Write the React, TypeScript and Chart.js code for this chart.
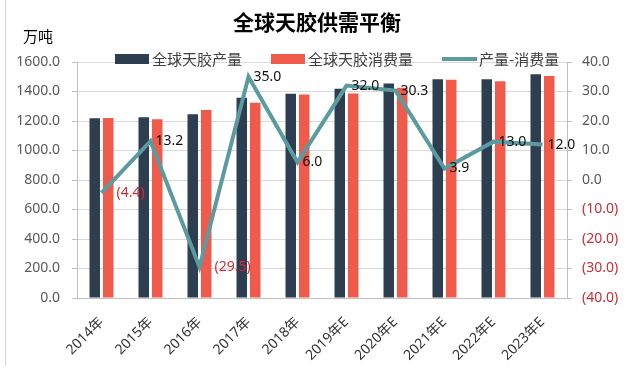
import React, { useEffect, useRef } from "react";
import { Chart, registerables } from "chart.js";

Chart.register(...registerables);

const categories = ["2014年", "2015年", "2016年", "2017年", "2018年", "2019年E", "2020年E", "2021年E", "2022年E", "2023年E"];
const production = [1218, 1225, 1245, 1358, 1385, 1419, 1455, 1483, 1483, 1517];
const consumption = [1220, 1212, 1275, 1323, 1379, 1387, 1425, 1479, 1470, 1505];
const balance = [-4.4, 13.2, -29.5, 35.0, 6.0, 32.0, 30.3, 3.9, 13.0, 12.0];
const leftTicks = [0, 200, 400, 600, 800, 1000, 1200, 1400, 1600];
const rightTicks = [-40, -30, -20, -10, 0, 10, 20, 30, 40];

const title = "全球天胶供需平衡";
const unitLabel = "万吨";
const seriesNames = ["全球天胶产量", "全球天胶消费量", "产量-消费量"];

const DARK = "#2C3E50";
const RED = "#EF5A4A";
const TEAL = "#5B9BA0";
const NEG = "#D42A35";
const FONT = "'Noto Sans', 'Noto Sans CJK SC', sans-serif";
const CJK = "'Noto Sans CJK SC', sans-serif";

const fmtRight = (v: number) => (v < 0 ? `(${(-v).toFixed(1)})` : v.toFixed(1));

const overlay = {
  id: "overlay",
  afterDatasetsDraw(chart: any) {
    const ctx = chart.ctx;
    const meta = chart.getDatasetMeta(0);
    ctx.save();
    ctx.font = `14px ${FONT}`;
    ctx.textBaseline = "middle";
    ctx.textAlign = "left";
    meta.data.forEach((pt: any, i: number) => {
      const v = balance[i];
      ctx.fillStyle = v < 0 ? NEG : "#111111";
      ctx.fillText(fmtRight(v), pt.x + (v < 0 ? 15 : 5), pt.y);
    });
    ctx.restore();
  },
  afterDraw(chart: any) {
    const ctx = chart.ctx;
    ctx.save();
    ctx.strokeStyle = "#D6D6D6";
    ctx.lineWidth = 1;
    ctx.beginPath();
    ctx.moveTo(5.5, 0);
    ctx.lineTo(5.5, 366);
    ctx.stroke();
    ctx.fillStyle = "#000";
    ctx.font = `bold 21px ${CJK}`;
    ctx.textAlign = "center";
    ctx.textBaseline = "middle";
    ctx.fillText(title, 317, 22);
    ctx.font = `15px ${CJK}`;
    ctx.textAlign = "left";
    ctx.fillText(unitLabel, 23, 36);
    ctx.font = `15px ${CJK}`;
    let x = 115;
    const y = 59;
    const colors = [DARK, RED, TEAL];
    seriesNames.forEach((name, i) => {
      if (i < 2) {
        ctx.fillStyle = colors[i];
        ctx.fillRect(x, y - 5, 34, 10);
      } else {
        ctx.strokeStyle = colors[i];
        ctx.lineWidth = 4;
        ctx.beginPath();
        ctx.moveTo(x, y);
        ctx.lineTo(x + 35, y);
        ctx.stroke();
      }
      x += 37;
      ctx.fillStyle = "#404040";
      ctx.fillText(name, x, y);
      x += ctx.measureText(name).width + 29;
    });
    ctx.restore();
  },
};

export default function App() {
  const ref = useRef<HTMLCanvasElement>(null);
  useEffect(() => {
    if (!ref.current) return;
    const chart = new Chart(ref.current, {
      type: "bar",
      data: {
        labels: categories,
        datasets: [
          {
            type: "line",
            label: seriesNames[2],
            data: balance,
            borderColor: TEAL,
            backgroundColor: TEAL,
            borderWidth: 4,
            pointRadius: 0,
            tension: 0,
            yAxisID: "y1",
          } as any,
          {
            label: seriesNames[0],
            data: production,
            backgroundColor: DARK,
            yAxisID: "y",
            categoryPercentage: 0.55,
            barPercentage: 0.78,
          },
          {
            label: seriesNames[1],
            data: consumption,
            backgroundColor: RED,
            yAxisID: "y",
            categoryPercentage: 0.55,
            barPercentage: 0.78,
          },
        ],
      },
      options: {
        responsive: false,
        animation: false,
        layout: { padding: { top: 62, left: 0, right: 0, bottom: 0 } },
        plugins: {
          legend: { display: false },
          title: { display: false },
          tooltip: { enabled: false },
        },
        scales: {
          x: {
            grid: { display: false },
            border: { display: true, color: "#BFBFBF" },
            ticks: {
              maxRotation: 45,
              minRotation: 45,
              color: "#333333",
              font: { size: 14, family: FONT },
              padding: 8,
            },
            afterFit: (s: any) => {
              s.height = 70;
            },
          },
          y: {
            position: "left",
            min: 0,
            max: 1600,
            afterBuildTicks: (s: any) => {
              s.ticks = leftTicks.map((v) => ({ value: v }));
            },
            grid: { color: "#D9D9D9", tickLength: 5, tickColor: "#BFBFBF" },
            border: { display: true, color: "#BFBFBF" },
            ticks: {
              color: "#595959",
              font: { size: 14, family: FONT },
              padding: 12,
              callback: (v: any) => Number(v).toFixed(1),
            },
            afterFit: (s: any) => {
              s.width = 77;
            },
          },
          y1: {
            position: "right",
            min: -40,
            max: 40,
            afterBuildTicks: (s: any) => {
              s.ticks = rightTicks.map((v) => ({ value: v }));
            },
            grid: { drawOnChartArea: false, tickLength: 5, color: "#BFBFBF" },
            border: { display: true, color: "#BFBFBF" },
            ticks: {
              color: (c: any) => (c.tick && c.tick.value < 0 ? NEG : "#595959"),
              font: { size: 14, family: FONT },
              padding: 10,
              callback: (v: any) => fmtRight(Number(v)),
            },
            afterFit: (s: any) => {
              s.width = 61;
            },
          },
        },
      },
      plugins: [overlay],
    });
    return () => chart.destroy();
  }, []);
  return (
    <div style={{ position: "fixed", left: 0, top: 0, width: 628, height: 368, background: "#fff" }}>
      <canvas ref={ref} width={628} height={368} />
    </div>
  );
}
